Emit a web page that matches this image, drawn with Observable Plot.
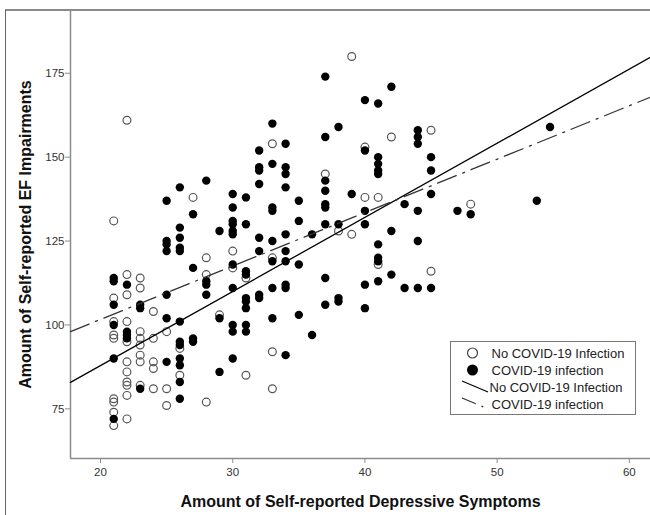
<!DOCTYPE html>
<html><head><meta charset="utf-8">
<script src="https://cdn.jsdelivr.net/npm/d3@7"></script>
<script src="https://cdn.jsdelivr.net/npm/@observablehq/plot@0.6"></script>
<style>
html,body{margin:0;padding:0;background:#fff;}
#wrap{position:relative;width:650px;height:515px;overflow:hidden;font-family:"Liberation Sans",Arial,sans-serif;background:#fff;}
#frame{position:absolute;left:5px;top:9px;width:700px;height:600px;border-left:1.5px solid #666;border-top:2px solid #8a8a8a;}
#chart{position:absolute;left:0;top:0;}
#legend{position:absolute;left:450px;top:341px;width:184px;height:72px;border:1px solid #777;background:#fff;}
</style></head><body>
<div id="wrap"><div id="frame"></div><div id="chart"></div><div id="legend"></div></div>
<script>
// Axis ticks and titles
const xTicks = [20, 30, 40, 50, 60];
const yTicks = [75, 100, 125, 150, 175];
const xDomain = [17.73, 61.6];
const yDomain = [60.2, 193.7];
const xTitle = "Amount of Self-reported Depressive Symptoms";
const yTitle = "Amount of Self-reported EF Impairments";

// Groups (legend labels)
const groups = ["No COVID-19 Infection", "COVID-19 infection"];

// No COVID-19 infection: [depressive symptoms, EF impairments]
const noCovid = [
  [21,131],[21,108],[21,101],[21,97],[21,96],[21,78],[21,77],[21,74],[21,70],
  [22,161],[22,115],[22,109],[22,101],[22,95],[22,89],[22,86],[22,83],[22,82],[22,79],[22,72],
  [23,114],[23,111],[23,98],[23,96],[23,94],[23,91],[23,89],[23,82],
  [24,104],[24,96],[24,89],[24,87],[24,81],
  [25,98],[25,81],[25,76],
  [26,93],[26,85],
  [27,138],
  [28,120],[28,115],[28,77],
  [29,103],
  [30,122],[30,117],
  [31,114],[31,85],
  [33,154],[33,120],[33,92],[33,81],
  [37,145],[38,128],[39,180],[39,127],[40,153],[40,138],[41,138],[41,118],
  [42,156],[45,158],[45,116],[48,136]
];

// COVID-19 infection
const covid = [
  [21,114],[21,113],[21,106],[21,100],[21,90],[21,72],
  [22,112],[22,98],[22,97],[22,96],
  [23,106],[23,105],[23,81],
  [25,137],[25,125],[25,124],[25,122],[25,109],[25,102],[25,89],
  [26,141],[26,129],[26,126],[26,123],[26,122],[26,101],[26,95],[26,94],[26,90],[26,88],[26,83],[26,78],
  [27,133],[27,117],[27,96],[27,95],
  [28,143],[28,113],[28,112],[28,109],
  [29,128],[29,102],[29,86],
  [30,139],[30,135],[30,131],[30,130],[30,128],[30,127],[30,118],[30,111],[30,100],[30,98],[30,90],
  [31,138],[31,130],[31,116],[31,115],[31,108],[31,107],[31,105],[31,100],[31,98],
  [32,152],[32,147],[32,146],[32,142],[32,126],[32,122],[32,109],[32,108],
  [33,160],[33,148],[33,135],[33,134],[33,125],[33,119],[33,111],[33,102],
  [34,154],[34,147],[34,145],[34,141],[34,127],[34,122],[34,119],[34,112],[34,111],[34,91],
  [35,137],[35,131],[35,118],[35,103],
  [36,127],[36,97],
  [37,174],[37,156],[37,143],[37,140],[37,136],[37,135],[37,130],[37,114],[37,106],
  [38,159],[38,130],[38,108],[38,107],
  [39,139],
  [40,167],[40,152],[40,134],[40,130],[40,112],[40,105],
  [41,166],[41,150],[41,148],[41,146],[41,145],[41,124],[41,120],[41,119],[41,113],
  [42,171],[42,128],[42,115],
  [43,136],[43,111],
  [44,158],[44,156],[44,154],[44,134],[44,125],[44,111],
  [45,150],[45,146],[45,139],[45,111],
  [47,134],[48,133],[53,137],[54,159]
];

// Fit lines: intercept and slope per group
const fitIntercepts = [43.7, 69.8];
const fitSlopes = [2.209, 1.592];

const fitLines = groups.map((g, i) => xDomain.map(x => ({x, y: fitIntercepts[i] + fitSlopes[i] * x, g})));

const font = '"Liberation Sans", Arial, sans-serif';

const chart = Plot.plot({
  width: 650,
  height: 515,
  marginLeft: 70,
  marginRight: 0,
  marginTop: 10,
  marginBottom: 57,
  style: {fontFamily: font, fontSize: "11.5px", background: "transparent", overflow: "visible"},
  x: {domain: xDomain},
  y: {domain: yDomain},
  marks: [
    Plot.ruleX([xDomain[0]], {stroke: "#8c8c8c", strokeWidth: 1.5}),
    Plot.ruleY([yDomain[0]], {stroke: "#8c8c8c", strokeWidth: 1.5}),
    Plot.axisY(yTicks, {tickSize: 5, tickPadding: 1, stroke: "#8c8c8c", fill: "#333", label: null}),
    Plot.axisX(xTicks, {tickSize: 5, tickPadding: 4, stroke: "#8c8c8c", fill: "#333", label: null}),
    Plot.dot(noCovid, {x: d => d[0], y: d => d[1], r: 3.9, stroke: "#555", strokeWidth: 1.2, fill: "none"}),
    Plot.dot(covid, {x: d => d[0], y: d => d[1], r: 4.2, fill: "#000", stroke: "none"}),
    Plot.line(fitLines[0], {x: "x", y: "y", stroke: "#000", strokeWidth: 1.3}),
    Plot.line(fitLines[1], {x: "x", y: "y", stroke: "#333", strokeWidth: 1.3, strokeDasharray: "20,7,2,7"}),
    Plot.text([xTitle], {frameAnchor: "bottom", dy: 43.6, text: d => d, textAnchor: "middle", lineAnchor: "middle", fontSize: 16, fontWeight: "bold", fill: "#111"}),
    Plot.text([yTitle], {frameAnchor: "left", dx: -45, rotate: -90, text: d => d, textAnchor: "middle", lineAnchor: "middle", fontSize: 16, fontWeight: "bold", fill: "#111"})
  ]
});
document.getElementById("chart").appendChild(chart);

// Legend
const lg = d3.select("#legend").append("svg").attr("width", 184).attr("height", 72)
  .style("font-family", font).style("font-size", "13px");
const rows = [11, 28, 45, 62];
lg.append("circle").attr("cx", 21.5).attr("cy", rows[0]).attr("r", 5).attr("fill", "none").attr("stroke", "#444").attr("stroke-width", 1.2);
lg.append("circle").attr("cx", 21.5).attr("cy", rows[1]).attr("r", 5.5).attr("fill", "#000");
lg.append("line").attr("x1", 11).attr("y1", rows[2] - 6).attr("x2", 37).attr("y2", rows[2] + 5).attr("stroke", "#000").attr("stroke-width", 1.2);
lg.append("line").attr("x1", 11).attr("y1", rows[3] - 6).attr("x2", 35).attr("y2", rows[3] + 4).attr("stroke", "#333").attr("stroke-width", 1.2).attr("stroke-dasharray", "15,6,2,6");
const labels = [groups[0], groups[1], groups[0], groups[1]];
labels.forEach((t, i) => {
  lg.append("text").attr("x", i === 2 ? 38.5 : 40.5).attr("y", rows[i]).attr("dy", "0.35em").attr("fill", "#222").text(t);
});
</script>
</body></html>
